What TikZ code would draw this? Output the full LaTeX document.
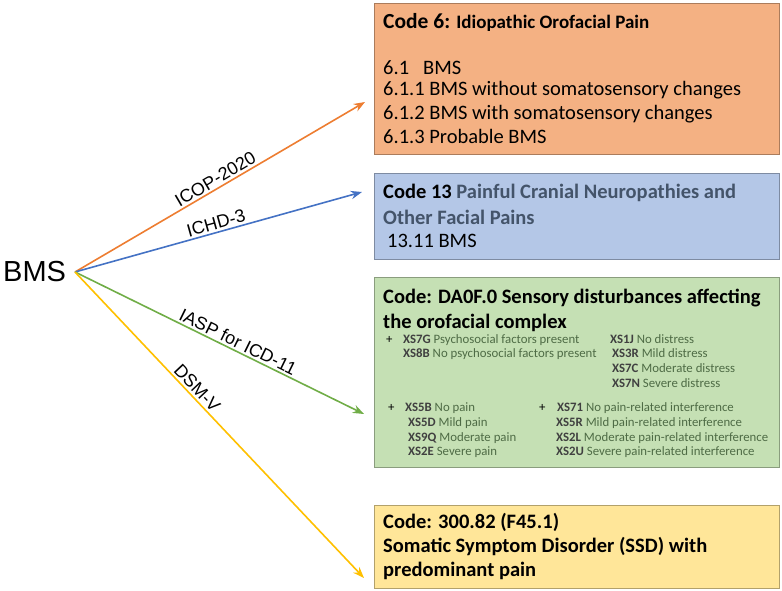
\documentclass[tikz,border=0pt]{standalone}
\usepackage{fontspec}
\setmainfont{Carlito}
\newfontfamily\arialfont{Liberation Sans}
\usetikzlibrary{arrows.meta}
\definecolor{icoporange}{HTML}{ED7D31}
\definecolor{ichdblue}{HTML}{4472C4}
\definecolor{iaspgreen}{HTML}{70AD47}
\definecolor{dsmyellow}{HTML}{FFC000}
\definecolor{icopfill}{HTML}{F4B183}
\definecolor{ichdfill}{HTML}{B4C7E7}
\definecolor{iaspfill}{HTML}{C5E0B4}
\definecolor{dsmfill}{HTML}{FFE699}
\definecolor{slate}{HTML}{44546A}
\definecolor{sagetext}{HTML}{4E6B45}
\tikzset{>={Stealth[scale=1.1]}}
\tikzset{
  codebox/.style={draw=#1!70!black, fill=#1, minimum width=405pt, anchor=north west, inner sep=0pt, line width=0.8pt},
  link/.style={->, line width=1.6pt},
  tag/.style={font=\arialfont\fontsize{18}{18}\selectfont, above, sloped, pos=0.5, inner sep=2pt},
  line/.style={anchor=west, inner sep=0pt, font=\fontsize{20.5}{20.5}\selectfont},
  head/.style={line, font=\bfseries\fontsize{20.5}{20.5}\selectfont},
  small/.style={anchor=west, inner sep=0pt, font=\fontsize{12.8}{12.8}\selectfont, text=sagetext}
}
\begin{document}
\begin{tikzpicture}[x=1pt, y=1pt]
  \useasboundingbox (0,0) rectangle (782,-591);

  %boxes
  \node[codebox=icopfill, minimum height=151pt] (icop) at (374,-3) {};
  \node[codebox=ichdfill, minimum height=86pt] (ichd) at (374,-173) {};
  \node[codebox=iaspfill, minimum height=190pt] (iasp) at (374,-277) {};
  \node[codebox=dsmfill, minimum height=83pt] (dsm) at (374,-505) {};

  %source
  \node[anchor=west, inner sep=0pt, font=\arialfont\fontsize{29}{29}\selectfont] (bms) at (3,-272) {BMS};
  \coordinate (src) at (75,-272);
  \coordinate (icopend) at (365,-102);
  \coordinate (ichdend) at (362,-192);
  \coordinate (iaspend) at (364,-414);
  \coordinate (dsmend) at (364,-578);

  %arrows
  \draw[link, icoporange] (src) -- (icopend) node[tag, text=black] {ICOP-2020};
  \draw[link, ichdblue] (src) -- (ichdend) node[tag, text=black] {ICHD-3};
  \draw[link, iaspgreen] (src) -- (iaspend) node[tag, text=black, pos=0.55] {IASP for ICD-11};
  \draw[link, dsmyellow] (src) -- (dsmend) node[tag, text=black, pos=0.4] {DSM-V};

  %orange text
  \node[line] (t61h) at (383,-22) {\textbf{{\fontsize{21.5}{21.5}\selectfont Code 6:} {\fontsize{19}{19}\selectfont Idiopathic Orofacial Pain}}};
  \node[line] (t61) at (383,-68) {6.1\hspace{14pt}BMS};
  \node[line] (t611) at (383,-90) {6.1.1 BMS without somatosensory changes};
  \node[line] (t612) at (383,-114) {6.1.2 BMS with somatosensory changes};
  \node[line] (t613) at (383,-136) {6.1.3 Probable BMS};

  %blue text
  \node[head] (t13h) at (383,-193) {Code 13 \textcolor{slate}{Painful Cranial Neuropathies and}};
  \node[head] (t13h2) at (383,-217) {\textcolor{slate}{Other Facial Pains}};
  \node[line] (t1311) at (387,-241) {13.11 BMS};

  %green text
  \node[head] (tdah) at (383,-298) {Code: DA0F.0 Sensory disturbances affecting};
  \node[head] (tdah2) at (383,-323) {the orofacial complex};
  \node[small, text=black] at (386,-340) {+};
  \node[small] at (403,-340) {\textbf{\color{black!75}XS7G} Psychosocial factors present};
  \node[small] at (403,-354) {\textbf{\color{black!75}XS8B} No psychosocial factors present};
  \node[small] at (610,-339) {\textbf{\color{black!75}XS1J} No distress};
  \node[small] at (612,-353) {\textbf{\color{black!75}XS3R} Mild distress};
  \node[small] at (612,-368) {\textbf{\color{black!75}XS7C} Moderate distress};
  \node[small] at (612,-383) {\textbf{\color{black!75}XS7N} Severe distress};
  \node[small, text=black] at (388,-408) {+};
  \node[small] at (405,-408) {\textbf{\color{black!75}XS5B} No pain};
  \node[small] at (408,-423) {\textbf{\color{black!75}XS5D} Mild pain};
  \node[small] at (408,-438) {\textbf{\color{black!75}XS9Q} Moderate pain};
  \node[small] at (408,-452) {\textbf{\color{black!75}XS2E} Severe pain};
  \node[small, text=black] at (539,-408) {+};
  \node[small] at (557,-408) {\textbf{\color{black!75}XS71} No pain-related interference};
  \node[small] at (556,-423) {\textbf{\color{black!75}XS5R} Mild pain-related interference};
  \node[small] at (556,-438) {\textbf{\color{black!75}XS2L} Moderate pain-related interference};
  \node[small] at (556,-452) {\textbf{\color{black!75}XS2U} Severe pain-related interference};

  %yellow text
  \node[head] (tdsm) at (383,-522) {Code: 300.82 (F45.1)};
  \node[head] (tdsm2) at (383,-547) {Somatic Symptom Disorder (SSD) with};
  \node[head] (tdsm3) at (383,-571) {predominant pain};
\end{tikzpicture}
\end{document}
